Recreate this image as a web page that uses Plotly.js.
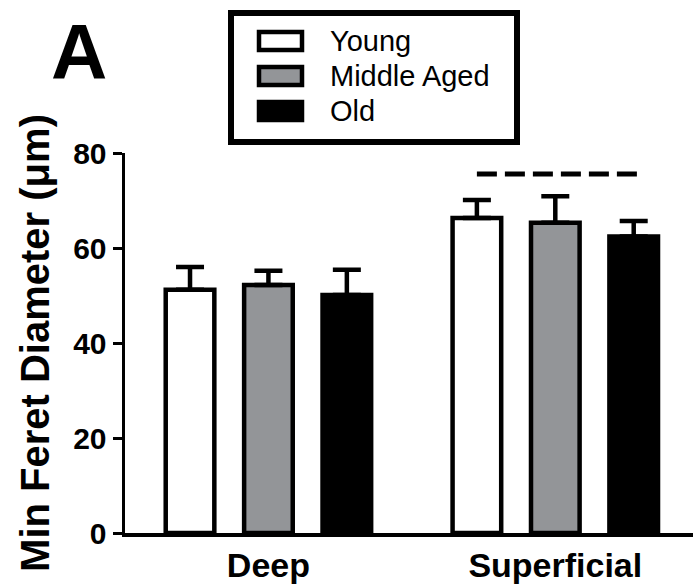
<!DOCTYPE html>
<html>
<head>
<meta charset="utf-8">
<script src="https://cdn.plot.ly/plotly-3.0.1.min.js"></script>
<style>html,body{margin:0;padding:0;background:#fff;}#chart{width:693px;height:587px;}</style>
</head>
<body>
<div id="chart"></div>
<script>
// ---- data ----
const categories = ["Deep", "Superficial"];
const seriesNames = ["Young", "Middle Aged", "Old"];
const youngMean = [51.2, 66.3];
const youngSEM = [4.8, 3.8];
const middleMean = [52.2, 65.3];
const middleSEM = [3.0, 5.6];
const oldMean = [50.1, 62.4];
const oldSEM = [5.3, 3.3];
const sigLineValue = 75.6;      // dashed significance bar over Superficial
const yTicks = [0, 20, 40, 60, 80];
const panelLabel = "A";
const yTitle = "Min Feret Diameter (μm)";

// ---- styling ----
const FONT = "Liberation Sans, Arial, Helvetica, sans-serif";
const fills = ["#ffffff", "#939598", "#000000"];
const bargap = 0.18, bargroupgap = 0.38;
const xPos = categories.map((_, i) => i);
const slot = (1 - bargap) / 3;

const means = [youngMean, middleMean, oldMean];
const sems = [youngSEM, middleSEM, oldSEM];

const traces = seriesNames.map((name, k) => ({
  type: "bar",
  name: name,
  x: xPos,
  y: means[k],
  marker: { color: fills[k], line: { color: "#000", width: 4.5 } },
  error_y: {
    type: "data", array: sems[k], symmetric: false,
    arrayminus: sems[k].map(() => 0),
    color: "#000", thickness: 4.5, width: 14
  },
  hoverinfo: "skip",
  showlegend: false
}));

// significance line spanning Young..Old in Superficial group
traces.push({
  type: "scatter", mode: "lines", showlegend: false, hoverinfo: "skip",
  x: [1 - slot, 1 + slot + 0.02],
  y: [sigLineValue, sigLineValue],
  line: { color: "#000", width: 5, dash: "20px,8px" }
});

// ---- boxed legend (paper coordinates) ----
const M = { l: 125, r: 0, t: 153, b: 54 };
const W = 693, H = 587;
const pw = W - M.l - M.r, ph = H - M.t - M.b;
const px2x = p => (p - M.l) / pw;
const py2y = p => (H - M.b - p) / ph;

const shapes = [{
  type: "rect", xref: "paper", yref: "paper", layer: "above",
  x0: px2x(231), x1: px2x(517), y0: py2y(142), y1: py2y(13),
  line: { color: "#000", width: 6 }, fillcolor: "#fff"
}];
const annotations = [{
  text: panelLabel, xref: "paper", yref: "paper",
  x: px2x(79), y: py2y(52), xanchor: "center", yanchor: "middle",
  showarrow: false, font: { family: FONT, size: 78, weight: 700, color: "#000" }
}];
seriesNames.forEach((name, k) => {
  const cy = 41 + 35 * k;
  shapes.push({
    type: "rect", xref: "paper", yref: "paper", layer: "above",
    x0: px2x(259), x1: px2x(302), y0: py2y(cy + 9), y1: py2y(cy - 9),
    line: { color: "#000", width: 4.5 }, fillcolor: fills[k]
  });
  annotations.push({
    text: name, xref: "paper", yref: "paper",
    x: px2x(328), y: py2y(cy), xanchor: "left", yanchor: "middle",
    showarrow: false, font: { family: FONT, size: 29, color: "#000" }
  });
});

const layout = {
  width: W, height: H,
  margin: { l: M.l, r: M.r, t: M.t, b: M.b, pad: 0 },
  paper_bgcolor: "#fff", plot_bgcolor: "#fff",
  barmode: "group", bargap: bargap, bargroupgap: bargroupgap,
  showlegend: false,
  xaxis: {
    range: [-0.5, 1.48], fixedrange: true,
    tickvals: xPos, ticktext: categories,
    ticks: "", showgrid: false, zeroline: false,
    showline: true, linecolor: "#000", linewidth: 3.5,
    tickfont: { family: FONT, size: 34, weight: 700, color: "#000" }
  },
  yaxis: {
    range: [0, 80], fixedrange: true,
    tickvals: yTicks, ticktext: yTicks.map(String),
    ticks: "outside", ticklen: 9, tickwidth: 3, tickcolor: "#000",
    showgrid: false, zeroline: false,
    showline: true, linecolor: "#000", linewidth: 3.5,
    tickfont: { family: FONT, size: 30, weight: 700, color: "#000" },
    title: { text: yTitle, standoff: 12, font: { family: FONT, size: 40, weight: 700, color: "#000" } }
  },
  shapes: shapes,
  annotations: annotations
};

Plotly.newPlot("chart", traces, layout, { displayModeBar: false, staticPlot: true });
</script>
</body>
</html>
